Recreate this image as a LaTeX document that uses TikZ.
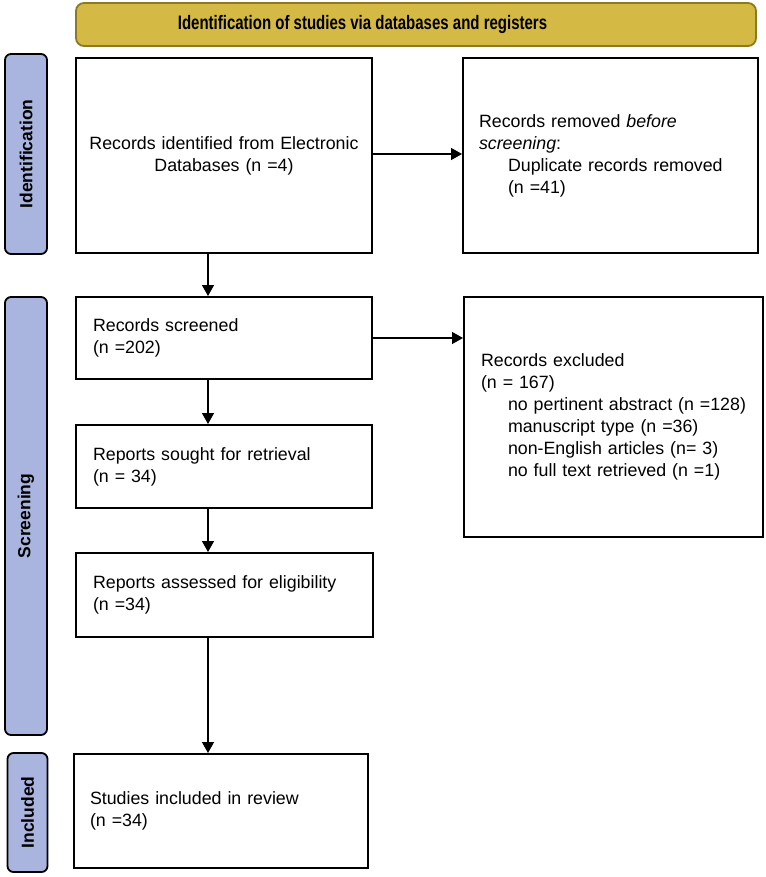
\documentclass[tikz,border=0pt]{standalone}
\usepackage{fontspec}
\usepackage{graphicx}
\setmainfont{Liberation Sans}
\usetikzlibrary{arrows.meta}
\definecolor{bannerfill}{HTML}{D4B944}
\definecolor{bannerdraw}{HTML}{8C7A20}
\definecolor{sidefill}{HTML}{A9B5DE}
\begin{document}
\begin{tikzpicture}[x=1pt,y=-1pt,
  box/.style={draw=black, line width=2pt, rectangle, inner xsep=17pt, inner ysep=0pt,
              align=left, font=\fontsize{17.8}{22}\selectfont},
  side/.style={draw=black, line width=1.8pt, fill=sidefill, rounded corners=6pt,
               inner sep=0pt, rotate=90, font=\fontsize{17.5}{20}\selectfont\bfseries},
  banner/.style={draw=bannerdraw, line width=1.8pt, fill=bannerfill, rounded corners=8pt, inner sep=0pt},
  arr/.style={line width=1.4pt, -{Triangle[length=11pt,width=12pt]}}]
\useasboundingbox (0,0) rectangle (765,877);

% banner
\node[banner, minimum width=680pt, minimum height=43pt] (banner) at (416,24.5) {};
\node[font=\fontsize{15}{18}\selectfont\bfseries, inner sep=0pt] (bannertitle) at (362.5,24.5)
  {\scalebox{1}[1.3]{Identification of studies via databases and registers}};

% side labels
\node[side, minimum width=200pt, minimum height=42pt] (sideid) at (26,154) {Identification};
\node[side, minimum width=438pt, minimum height=42pt] (sidescr) at (26,516) {Screening};
\node[side, minimum width=119pt, minimum height=40pt] (sideinc) at (27.5,812.5) {Included};

% boxes
\node[box, align=center, inner xsep=10pt, text width=276pt, minimum height=195pt] (ident) at (224,155.5)
  {Records identified from Electronic\\Databases (n =4)};
\node[box, inner xsep=16pt, text width=263pt, minimum height=195pt] (removed) at (610.5,155.5)
  {Records removed \textit{before}\\\textit{screening}:\\\hspace*{29pt}Duplicate records removed\\\hspace*{29pt}(n =41)};
\node[box, text width=262pt, minimum height=82pt] (screened) at (224,338)
  {Records screened\\(n =202)};
\node[box, text width=265pt, minimum height=240pt] (excluded) at (613.5,417)
  {Records excluded\\(n = 167)\\
   \mbox{\hspace*{27pt}no pertinent abstract (n =128)}\\
   \mbox{\hspace*{27pt}manuscript type (n =36)}\\
   \mbox{\hspace*{27pt}non-English articles (n= 3)}\\
   \mbox{\hspace*{27pt}no full text retrieved (n =1)}};
\node[box, text width=262pt, minimum height=83pt] (sought) at (224,466.5)
  {Reports sought for retrieval\\(n = 34)};
\node[box, text width=263pt, minimum height=84pt] (assessed) at (224.5,595)
  {Reports assessed for eligibility\\(n =34)};
\node[box, inner xsep=16pt, text width=262pt, minimum height=114pt] (included) at (221,811)
  {Studies included in review\\(n =34)};

% connectors
\draw[arr] ([yshift=1.5pt]ident.east) -- ([yshift=1.5pt]removed.west);
\draw[arr] ([xshift=-16pt]ident.south) -- ([xshift=-16pt]screened.north);
\draw[arr] (screened.east) -- (screened.east -| excluded.west);
\draw[arr] ([xshift=-16pt]screened.south) -- ([xshift=-16pt]sought.north);
\draw[arr] ([xshift=-16pt]sought.south) -- ([xshift=-16.5pt]assessed.north);
\draw[arr] ([xshift=-16.5pt]assessed.south) -- ([xshift=-13pt]included.north);
\end{tikzpicture}
\end{document}
